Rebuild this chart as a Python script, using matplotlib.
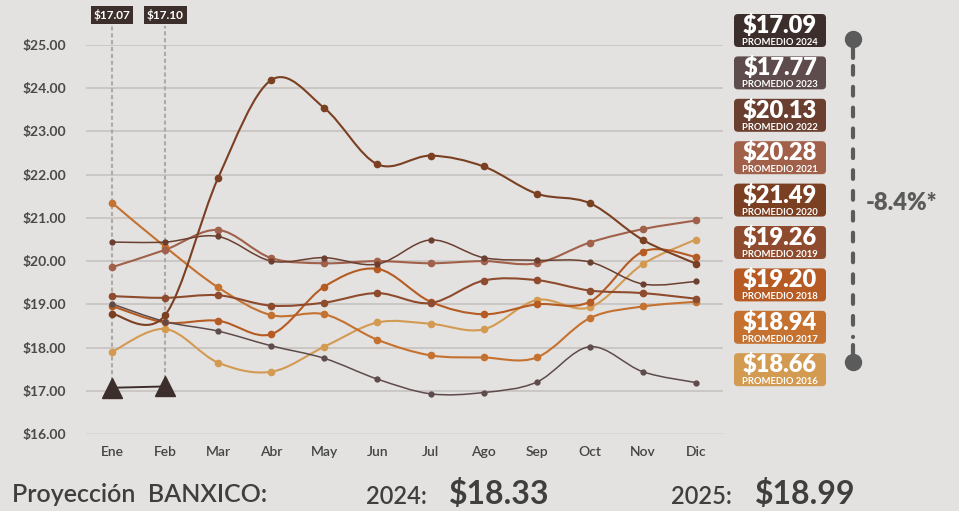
import numpy as np
import matplotlib
matplotlib.use('Agg')
import matplotlib.pyplot as plt
from matplotlib.path import Path
from matplotlib.patches import PathPatch, FancyBboxPatch

plt.rcParams['font.family'] = ['Lato', 'DejaVu Sans']

# --- Tipo de cambio mensual (MXN por USD) ---
meses = ['Ene', 'Feb', 'Mar', 'Abr', 'May', 'Jun', 'Jul', 'Ago', 'Sep', 'Oct', 'Nov', 'Dic']
y2016 = [17.90, 18.43, 17.65, 17.44, 18.02, 18.58, 18.55, 18.42, 19.10, 18.93, 19.93, 20.50]
y2017 = [21.35, 20.33, 19.39, 18.75, 18.77, 18.18, 17.82, 17.77, 17.77, 18.68, 18.95, 19.06]
y2018 = [18.96, 18.58, 18.62, 18.31, 19.41, 19.82, 19.06, 18.77, 19.00, 19.06, 20.22, 20.10]
y2019 = [19.19, 19.15, 19.21, 18.97, 19.04, 19.26, 19.03, 19.55, 19.56, 19.32, 19.26, 19.13]
y2020 = [18.78, 18.75, 21.93, 24.19, 23.54, 22.24, 22.44, 22.19, 21.56, 21.34, 20.49, 19.94]
y2021 = [19.86, 20.26, 20.72, 20.07, 19.95, 20.00, 19.95, 20.00, 19.95, 20.43, 20.74, 20.94]
y2022 = [20.44, 20.44, 20.57, 20.00, 20.08, 19.93, 20.49, 20.08, 20.02, 19.98, 19.47, 19.53]
y2023 = [19.01, 18.60, 18.38, 18.04, 17.75, 17.27, 16.93, 16.96, 17.20, 18.02, 17.44, 17.19]
y2024 = [17.07, 17.10]

# promedios anuales (cajas de la derecha)
anios = [2024, 2023, 2022, 2021, 2020, 2019, 2018, 2017, 2016]
promedios = [17.09, 17.77, 20.13, 20.28, 21.49, 19.26, 19.20, 18.94, 18.66]
colores = ['#3c2f2b', '#5e4b4b', '#6a3f2f', '#a1604a', '#7b3f22',
           '#8e4b2e', '#b55b23', '#c5712f', '#d39a52']
variacion = '-8.4%*'

# proyección Banxico
proy_anios = ['2024', '2025']
proy_valores = [18.33, 18.99]

FONDO = '#e3e2e0'
W, H = 959, 511


def suave(xs, ys):
    # spline Catmull-Rom convertida a curvas Bezier
    pts = np.column_stack([xs, ys]).astype(float)
    n = len(pts)
    verts = [pts[0]]
    codes = [Path.MOVETO]
    for i in range(n - 1):
        p0 = pts[max(i - 1, 0)]
        p1 = pts[i]
        p2 = pts[i + 1]
        p3 = pts[min(i + 2, n - 1)]
        verts += [p1 + (p2 - p0) / 6, p2 - (p3 - p1) / 6, p2]
        codes += [Path.CURVE4] * 3
    return Path(verts, codes)


fig = plt.figure(figsize=(W / 100, H / 100), dpi=100, facecolor=FONDO)
ax = fig.add_axes([85.5 / W, 1 - 434 / H, 637 / W, 389 / H])
ax.set_facecolor('none')

series = [
    (y2016, colores[8], 1.5, 4.5),
    (y2017, colores[7], 1.5, 4.5),
    (y2018, colores[6], 1.5, 4.5),
    (y2019, colores[5], 1.5, 4.5),
    (y2021, colores[3], 1.5, 4.5),
    (y2022, colores[2], 1.1, 3.5),
    (y2023, colores[1], 1.1, 3.5),
    (y2020, colores[4], 1.5, 4.5),
]
for vals, col, lw, ms in series:
    x = np.arange(len(vals))
    ax.add_patch(PathPatch(suave(x, vals), fill=False, edgecolor=col, lw=lw, zorder=3))
    ax.plot(x, vals, 'o', color=col, ms=ms, zorder=4)

# 2024: dos meses con guías punteadas y etiquetas
x24 = np.arange(len(y2024))
for i, v in zip(x24, y2024):
    ax.plot([i, i], [v, 25.45], color='#aeaaa8', lw=1.5, ls=(0, (2.0, 1.3)),
            clip_on=False, zorder=2)
    ax.text(i, 1.076, f'${v:.2f}', transform=ax.get_xaxis_transform(),
            ha='center', va='center', color='white', fontsize=8.5, fontweight='bold',
            bbox=dict(boxstyle='square,pad=0.25', fc=colores[0], ec='none'))
ax.plot(x24, y2024, color=colores[0], lw=1.4, zorder=5)
ax.plot(x24, y2024, '^', color=colores[0], ms=14, zorder=6, clip_on=False)

ax.set_xlim(-0.5, 11.5)
ax.set_ylim(16, 25)
ax.set_yticks(np.arange(16, 26))
ax.set_yticklabels([f'${t:.2f}' for t in np.arange(16, 26)])
ax.set_xticks(np.arange(12))
ax.set_xticklabels(meses)
ax.grid(axis='y', color='#c3c0be', lw=1.1, zorder=0)
ax.get_ygridlines()[0].set_color('#d6d4d2')
for s in ax.spines.values():
    s.set_visible(False)
ax.tick_params(axis='y', length=0, pad=14, labelsize=10, labelcolor='#4a4a4a')
ax.tick_params(axis='x', length=0, pad=9, labelsize=10, labelcolor='#444444')
for lab in ax.get_yticklabels():
    lab.set_fontweight('bold')
for lab in ax.get_xticklabels():
    lab.set_fontweight('semibold')

# capa en pixeles para las cajas y textos de la derecha / abajo
ov = fig.add_axes([0, 0, 1, 1])
ov.set_xlim(0, W)
ov.set_ylim(H, 0)
ov.axis('off')
ov.set_facecolor('none')

for k, (anio, prom, col) in enumerate(zip(anios, promedios, colores)):
    top = 14 + k * 42.4
    ov.add_patch(FancyBboxPatch((734, top), 92, 33, boxstyle='round,pad=0,rounding_size=4',
                                fc=col, ec='none'))
    ov.text(780, top + 11.5, f'${prom:.2f}', ha='center', va='center', color='white',
            fontsize=17, fontweight='heavy')
    ov.text(780, top + 28.5, f'PROMEDIO {anio}', ha='center', va='center', color='white',
            fontsize=6.8, fontweight='bold')

# rango de variación
gris = '#5b5b5b'
ov.plot([853, 853], [39, 58], color=gris, lw=3, solid_capstyle='round')
ov.plot([853, 853], [345, 362], color=gris, lw=3, solid_capstyle='round')
ov.plot([853, 853], [66, 337], color=gris, lw=3, ls=(0, (2.1, 2.9)), dash_capstyle='round')
ov.plot([853, 853], [39, 362], 'o', color=gris, ms=11.5)
ov.text(866, 203, variacion, ha='left', va='center', color=gris, fontsize=17,
        fontweight='heavy')

# proyección Banxico
ov.text(12, 502, 'Proyección  BANXICO:', ha='left', va='baseline', color='#3f3f3f',
        fontsize=18, fontweight='semibold')
for xa, xv, a, v in zip([366, 671], [449, 755], proy_anios, proy_valores):
    ov.text(xa, 504, f'{a}:', ha='left', va='baseline', color='#3f3f3f',
            fontsize=17, fontweight='semibold')
    ov.text(xv, 504, f'${v:.2f}', ha='left', va='baseline', color='#3f3f3f',
            fontsize=23, fontweight='bold')

fig.savefig('out.png', dpi=100, facecolor=FONDO)
